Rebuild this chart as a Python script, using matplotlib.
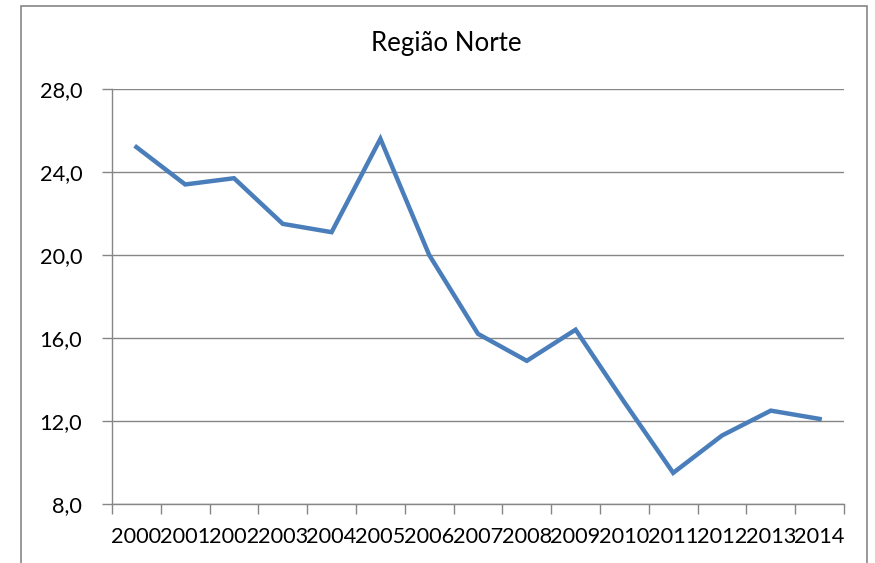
import matplotlib.pyplot as plt
from matplotlib.patches import Rectangle
from matplotlib.ticker import FixedLocator, FuncFormatter

plt.rcParams['font.family'] = ['Lato', 'DejaVu Sans']

years = [str(y) for y in range(2000, 2015)]
values = [25.2, 23.4, 23.7, 21.5, 21.1, 25.6, 20.0, 16.2, 14.9, 16.4,
          12.9, 9.5, 11.3, 12.5, 12.1]
y_ticks = [8, 12, 16, 20, 24, 28]

GRID = '#868686'
LINE = '#4A7EBB'

fig = plt.figure(figsize=(8.75, 5.63), dpi=100)
ax = fig.add_axes([112 / 875, 1 - 504 / 563, (844 - 112) / 875, (504 - 89) / 563])

# chart area border (bottom edge runs off the picture)
fig.patches.append(Rectangle((21 / 875, -0.05), (867 - 21) / 875, 1 - 6 / 563 + 0.05,
                             transform=fig.transFigure, fill=False,
                             edgecolor=GRID, linewidth=1.2))

x = list(range(len(years)))
ax.plot(x, values, color=LINE, linewidth=3.2, solid_joinstyle='miter', zorder=3)

ax.set_xlim(-0.5, len(years) - 0.5)
ax.set_ylim(8, 28)

ax.yaxis.set_major_locator(FixedLocator(y_ticks))
ax.yaxis.set_major_formatter(FuncFormatter(lambda v, p: f"{v:.1f}".replace('.', ',')))
ax.grid(axis='y', color=GRID, linewidth=1.0)

# category ticks between labels, labels at centers
ax.xaxis.set_major_locator(FixedLocator([i - 0.5 for i in range(len(years) + 1)]))
ax.xaxis.set_major_formatter(FuncFormatter(lambda v, p: ''))
ax.xaxis.set_minor_locator(FixedLocator(x))
ax.set_xticklabels(years, minor=True)
ax.tick_params(axis='x', which='minor', length=0, labelsize=15.7, pad=16.5)
ax.tick_params(axis='x', which='major', length=7, color=GRID, width=1.0)
ax.tick_params(axis='y', length=7, color=GRID, width=1.0, labelsize=15.7, pad=14.5)

for side in ['top', 'right']:
    ax.spines[side].set_visible(False)
for side in ['left', 'bottom']:
    ax.spines[side].set_color(GRID)
    ax.spines[side].set_linewidth(1.0)

fig.text(446 / 875, 1 - 43 / 563, 'Região Norte', ha='center', va='center', fontsize=18.6)

fig.savefig('out.png', dpi=100)
